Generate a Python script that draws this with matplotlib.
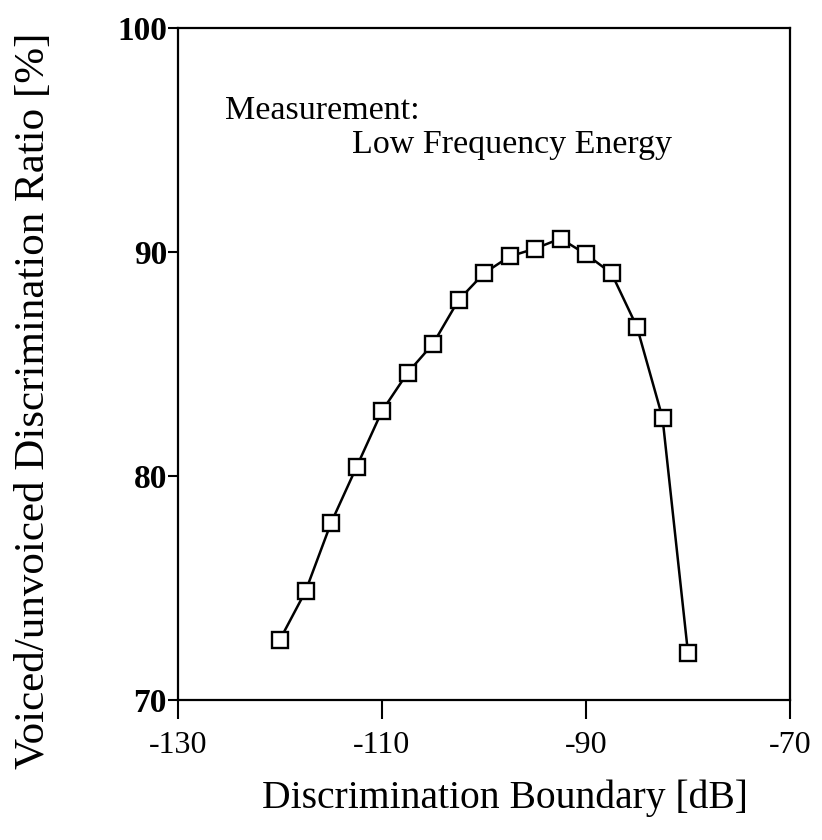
import numpy as np
import matplotlib.pyplot as plt

# discrimination boundary [dB] and voiced/unvoiced discrimination ratio [%]
boundary = [-120, -117.5, -115, -112.5, -110, -107.5, -105, -102.5, -100,
            -97.5, -95, -92.5, -90, -87.5, -85, -82.5, -80]
ratio = [72.7, 74.85, 77.9, 80.4, 82.9, 84.6, 85.9, 87.85, 89.05,
         89.8, 90.15, 90.6, 89.9, 89.05, 86.65, 82.6, 72.1]

xticks = [-130, -110, -90, -70]
yticks = [70, 80, 90, 100]

plt.rcParams['font.family'] = ['Liberation Serif', 'DejaVu Serif']

fig = plt.figure(figsize=(8.22, 8.4), dpi=100)
ax = fig.add_axes([178/822, 1-700/840, 612/822, 672/840])

ax.plot(boundary, ratio, color='black', lw=1.8, marker='s', ms=11,
        mfc='white', mec='black', mew=1.7)

ax.set_xlim(-130, -70)
ax.set_ylim(70, 100)
ax.set_xticks(xticks)
ax.set_yticks(yticks)
ax.set_xticklabels([str(v) for v in xticks], fontsize=23)
ax.set_yticklabels([str(v) for v in yticks], fontsize=24, fontweight='bold')
ax.tick_params(axis='x', direction='out', length=14, width=1.5, pad=8)
ax.tick_params(axis='y', direction='out', length=7, width=1.5, pad=1)
for s in ax.spines.values():
    s.set_linewidth(1.6)

ax.set_xlabel('Discrimination Boundary [dB]', fontsize=28.5)
ax.xaxis.set_label_coords((505-178)/612, -0.118)
ax.set_ylabel('Voiced/unvoiced Discrimination Ratio [%]', fontsize=31)
ax.yaxis.set_label_coords(-0.205, (700-401)/672)

ax.text(0.077, 0.877, 'Measurement:', transform=ax.transAxes, fontsize=24.5,
        va='center', ha='left')
ax.text(0.284, 0.826, 'Low Frequency Energy', transform=ax.transAxes,
        fontsize=24.5, va='center', ha='left')

fig.savefig('out.png', dpi=100)
